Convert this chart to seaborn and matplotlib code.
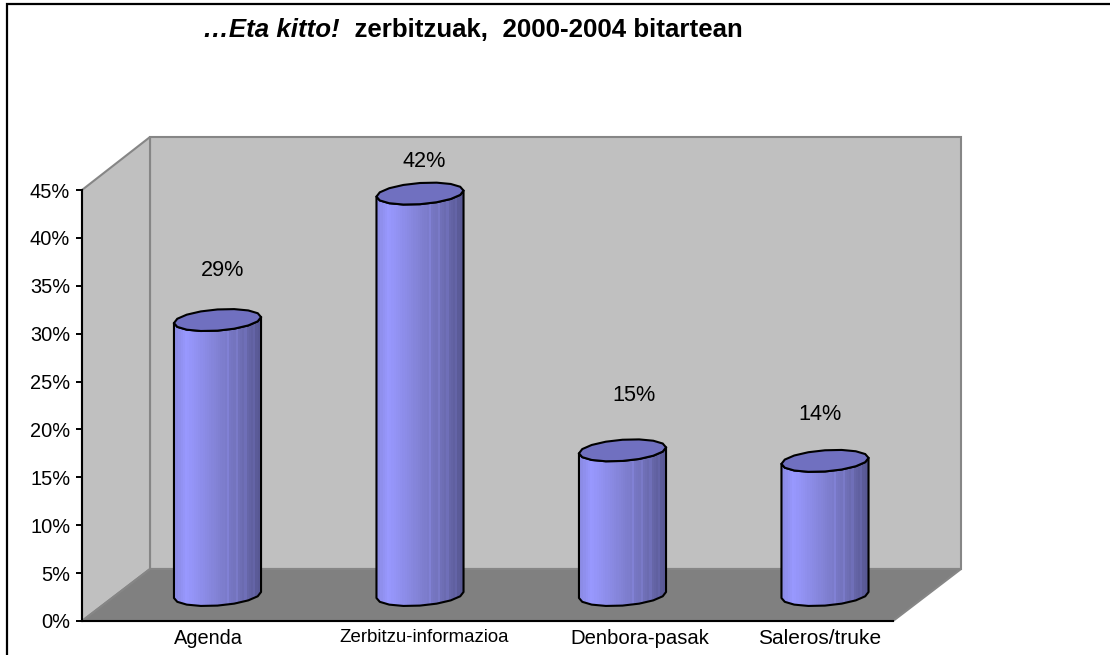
import numpy as np
import seaborn as sns
import matplotlib
matplotlib.use('Agg')
import matplotlib.pyplot as plt
from matplotlib.colors import LinearSegmentedColormap
from matplotlib.patches import Polygon

categories = ['Agenda', 'Zerbitzu-informazioa', 'Denbora-pasak', 'Saleros/truke']
values = [28.7, 41.9, 15.1, 14.0]
y_ticks = [0, 5, 10, 15, 20, 25, 30, 35, 40, 45]

# label placement in the original is a bit irregular, offsets are pixels
value_label_dx = [5, 4, 11, -5]
value_label_dy = [50, 32, 55, 46]
cat_label_dx = [-9, 4, 17, -5]
cat_label_size = [14.4, 13.4, 14.6, 15]

W, H = 1110, 656
PX_PER_PCT = 9.58
CAT_W = 202.5

sns.set_theme(style='white')
plt.rcParams['font.family'] = ['Liberation Sans', 'DejaVu Sans']

fig = plt.figure(figsize=(W / 100, H / 100), dpi=100, facecolor='white')


def px_axes(left, top, right, bottom):
    return fig.add_axes([left / W, 1 - bottom / H, (right - left) / W, (bottom - top) / H])


##### the fake 3d box, in pixel coordinates
bg = px_axes(0, 0, W, H)
bg.set_xlim(0, W)
bg.set_ylim(H, 0)
bg.axis('off')
# the frame is only there on the top and left in the original
bg.plot([W, 7, 7], [4, 4, 655], color='black', lw=1.6, solid_capstyle='butt', solid_joinstyle='miter')
edge = '#868686'
bg.add_patch(Polygon([(150, 137), (961, 137), (961, 569), (150, 569)], fc='#C0C0C0', ec=edge, lw=1.5))
bg.add_patch(Polygon([(82, 190), (150, 137), (150, 569), (82, 621)], fc='#C0C0C0', ec=edge, lw=1.5))
bg.add_patch(Polygon([(82, 621), (150, 569), (961, 569), (893, 621)], fc='#808080', ec=edge, lw=1.5))

##### value axis on the front plane
ax = px_axes(82, 190, 893, 621)
ax.patch.set_alpha(0)
ax.set_ylim(0, 45)
ax.set_xlim(-0.5, 3.5)
ax.set_xticks([])
ax.set_yticks(y_ticks)
ax.set_yticklabels([f'{t}%' for t in y_ticks], fontsize=14.4, color='black')
ax.tick_params(axis='y', left=True, length=4.5, width=1.4, color='black', pad=4)
for s in ['top', 'right']:
    ax.spines[s].set_visible(False)
for s in ['left', 'bottom']:
    ax.spines[s].set_color('black')
    ax.spines[s].set_linewidth(1.5)

##### bars, this axes covers the whole figure so the depth offset stays simple
bar_ax = px_axes(0, 0, W, H)
bar_ax.patch.set_alpha(0)
sns.barplot(x=categories, y=values, ax=bar_ax, width=0.43, color='#9999FF')
xlim = (-217.5 / CAT_W, (W - 217.5) / CAT_W)
ylim = (-(H - 595) / PX_PER_PCT, 595 / PX_PER_PCT)

cmap = LinearSegmentedColormap.from_list(
    'cyl', [(0, '#8A8AE2'), (0.13, '#9999FF'), (0.45, '#8585DA'), (0.75, '#7070B8'), (1, '#565690')], N=40)
grad = cmap(np.linspace(0, 1, 40))[None, :, :3].copy()
for k in [24, 28, 32, 36]:
    grad[0, k] = np.clip(grad[0, k] * 1.07, 0, 1)

a_tilt = 3 / PX_PER_PCT
b_ell = 10.6 / PX_PER_PCT


def ell(cx, cy, a, t):
    return np.column_stack([cx + a * np.cos(t), cy + b_ell * np.sin(t) + a_tilt * np.cos(t)])


for i, bar in enumerate(bar_ax.patches):
    x0 = bar.get_x()
    w = bar.get_width()
    cx = x0 + w / 2
    top = bar.get_height()
    a = w / 2
    bar.set_facecolor('none')
    bar.set_edgecolor('none')

    t_low = np.linspace(np.pi, 2 * np.pi, 9)
    body_pts = np.vstack([ell(cx, 0, a, t_low), ell(cx, top, a, t_low[::-1])])
    body = Polygon(body_pts, closed=True, fc='none', ec='black', lw=1.5, zorder=4, joinstyle='round')
    bar_ax.add_patch(body)
    im = bar_ax.imshow(grad, extent=(x0, x0 + w, -3, top + 3), aspect='auto', interpolation='nearest', zorder=3)
    im.set_clip_path(body)

    t_all = np.linspace(0, 2 * np.pi, 17)[:-1]
    bar_ax.add_patch(Polygon(ell(cx, top, a, t_all), closed=True, fc='#7070C0', ec='black', lw=1.5, zorder=5))

    bar_ax.annotate(f'{values[i]:.0f}%', xy=(cx, top), xycoords='data',
                    xytext=(value_label_dx[i], value_label_dy[i]), textcoords='offset pixels',
                    ha='center', va='center', fontsize=15.6, color='black', zorder=6)
    bar_ax.annotate(categories[i], xy=(cx, 0), xycoords='data',
                    xytext=(cat_label_dx[i], -43), textcoords='offset pixels',
                    ha='center', va='center', fontsize=cat_label_size[i], color='black', zorder=6)

bar_ax.set_xlim(*xlim)
bar_ax.set_ylim(*ylim)
bar_ax.axis('off')

##### title, two pieces because only the first is italic
t1 = fig.text(203 / W, 1 - 30 / H, '…Eta kitto!', fontsize=18.6, fontweight='bold', fontstyle='italic',
              ha='left', va='center', color='black')
bar_ax.annotate('  zerbitzuak,  2000-2004 bitartean', xy=(1, 0.5), xycoords=t1, ha='left', va='center',
                fontsize=18.6, fontweight='bold', color='black', annotation_clip=False)

fig.savefig('out.png', dpi=100)
